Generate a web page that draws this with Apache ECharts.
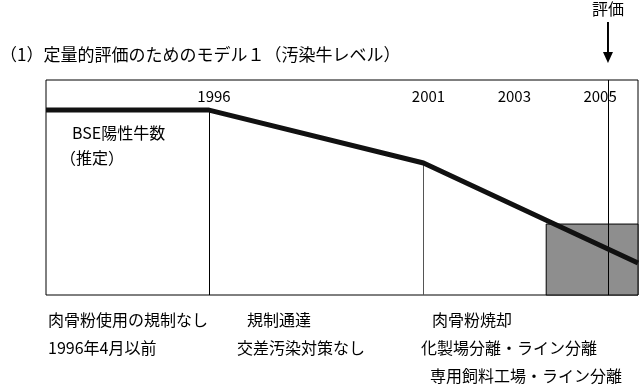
<!DOCTYPE html>
<html><head><meta charset="utf-8">
<script src="https://cdn.jsdelivr.net/npm/echarts@6/dist/echarts.min.js"></script>
<style>html,body{margin:0;padding:0;background:#fff}#c{width:640px;height:386px}</style>
</head><body><div id="c"></div>
<script>
// ---- data ----
const years = [1992.2, 1996, 2001, 2006];          // x of line vertices
const level = [86, 86, 61.4, 14.9];                 // estimated BSE-positive level (relative, 0-100)
const tickYears = [1996, 2001, 2003, 2005];         // year labels on top
const dividerYears = [1996, 2001];                  // vertical dividers
const evalYear = 2005.3;                            // evaluation point
const shadeRange = [2003.86, 2006];                 // shaded x-range
const shadeTop = 33;                                // shaded box height (relative)
const titleText = '（1）定量的評価のためのモデル１（汚染牛レベル）';
const evalText = '評価';
const seriesName = ['BSE陽性牛数', '（推定）'];
const periodNotes = [
  ['肉骨粉使用の規制なし', '1996年4月以前'],
  ['規制通達', '交差汚染対策なし'],
  ['肉骨粉焼却', '化製場分離・ライン分離', '専用飼料工場・ライン分離']
];

const FONT = '"Noto Sans CJK JP", sans-serif';
const chart = echarts.init(document.getElementById('c'), null, {renderer: 'canvas'});

function levelAt(y){
  for (let i=0;i<years.length-1;i++){
    if (y>=years[i] && y<=years[i+1]) {
      const t=(y-years[i])/(years[i+1]-years[i]);
      return level[i]+t*(level[i+1]-level[i]);
    }
  }
  return level[level.length-1];
}

const dividerLines = dividerYears.map((yr,i)=>[
  {coord:[yr, levelAt(yr)], lineStyle:{color: i===0?'#000':'#555', width:1, type:'solid'}},
  {coord:[yr, 0]}
]);
dividerLines.push([{coord:[evalYear,100], lineStyle:{color:'#000',width:1,type:'solid'}},{coord:[evalYear,0]}]);

chart.setOption({
  animation:false,
  backgroundColor:'#fff',
  grid:{left:46, right:2, top:80, bottom:91, show:true, borderColor:'#000', borderWidth:1, backgroundColor:'transparent', containLabel:false, outerBoundsMode:'none'},
  xAxis:{type:'value', min:years[0], max:years[years.length-1], position:'top',
    axisLine:{show:false}, axisTick:{show:false}, splitLine:{show:false},
    axisLabel:{inside:true, customValues:tickYears, formatter:v=>String(v), color:'#000',
      fontFamily:FONT, fontSize:15, margin:9, padding:[0,0,0,10]}},
  yAxis:{type:'value', min:0, max:100, show:false, splitLine:{show:false}},
  series:[
    {type:'line', name:seriesName[0], data:years.map((x,i)=>[x,level[i]]), symbol:'none',
      lineStyle:{color:'#111', width:5}, z:5,
      markArea:{silent:true, itemStyle:{color:'#8e8e8e', borderColor:'#000', borderWidth:1},
        data:[[{coord:[shadeRange[0],0]},{coord:[shadeRange[1],shadeTop]}]]},
      markLine:{silent:true, symbol:'none', label:{show:false}, lineStyle:{type:'solid'}, data:dividerLines, z:2}
    }
  ]
});

// annotations
const ev = chart.convertToPixel({gridIndex:0}, [evalYear, 100]);
const elems = [];
elems.push({type:'text', left:0, top:46, style:{text:titleText, font:'17px '+FONT, fill:'#000'}});
elems.push({type:'text', x:ev[0], y:1, style:{text:evalText, font:'16px '+FONT, fill:'#000', align:'center'}});
elems.push({type:'line', shape:{x1:ev[0], y1:22, x2:ev[0], y2:54}, style:{stroke:'#000', lineWidth:2}});
elems.push({type:'polygon', shape:{points:[[ev[0]-5,52],[ev[0]+5,52],[ev[0],63]]}, style:{fill:'#000'}});
elems.push({type:'text', x:72, y:125, style:{text:seriesName[0], font:'16px '+FONT, fill:'#000'}});
elems.push({type:'text', x:60, y:150, style:{text:seriesName[1], font:'16px '+FONT, fill:'#000'}});
const noteX = [[48,48],[247,237],[432,421,430]];
periodNotes.forEach((col,ci)=>col.forEach((t,ri)=>{
  elems.push({type:'text', x:noteX[ci][ri], y:312+ri*28, style:{text:t, font:'16px '+FONT, fill:'#000'}});
}));
chart.setOption({graphic:{elements:elems}});
</script></body></html>
